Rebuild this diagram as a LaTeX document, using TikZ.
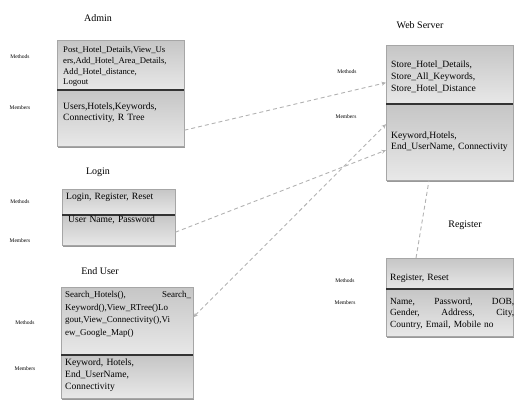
\documentclass[tikz,border=0pt]{standalone}
\usepackage{fontspec}
\setmainfont{Liberation Serif}
\usetikzlibrary{arrows.meta, shadows, positioning}

\begin{document}
\begin{tikzpicture}[x=1pt, y=-1pt,
  comp/.style={draw=gray!70, line width=0.4pt, top color=gray!45, bottom color=gray!18,
    anchor=north west, inner sep=0pt},
  shad/.style={drop shadow={shadow xshift=0.8pt, shadow yshift=-1.6pt, fill=gray!80, opacity=1}},
  txt/.style={anchor=north west, inner sep=0pt, align=left,
    font=\fontsize{9.6}{11.5}\selectfont},
  lbl/.style={font=\fontsize{5.5}{6}\selectfont, inner sep=0pt},
  ttl/.style={font=\fontsize{10}{12}\selectfont, inner sep=0pt},
  sep/.style={line width=1.1pt, black!80},
  tip/.style={-{Stealth[length=4.5pt, width=4pt]}},
  link/.style={draw=gray!60, line width=0.9pt, dash pattern=on 4pt off 3pt}]
\useasboundingbox (0,0) rectangle (514,403);

% Admin
\node[ttl] (adminT) at (98,18) {Admin};
\node[comp, shad, minimum width=127, minimum height=106] (adminB) at (57,40) {};
\node[comp, minimum width=127, minimum height=50] (adminM) at (57,40) {};
\node[comp, minimum width=127, minimum height=56] (adminA) at (57,90) {};
\draw[sep] (adminA.north west) -- (adminA.north east);
\node[txt, text width=122, font=\fontsize{8.7}{10.7}\selectfont] (adminMt) at ([xshift=6, yshift=-6.5]adminM.north west)
  {Post\_Hotel\_Details,View\_Us\\ers,Add\_Hotel\_Area\_Details,\\Add\_Hotel\_distance,\\Logout};
\node[txt, text width=122, font=\fontsize{9.6}{11}\selectfont] (adminAt) at ([xshift=6, yshift=-12.5]adminA.north west)
  {Users,Hotels,Keywords,\\Connectivity, R Tree};
\node[lbl] (adminML) at (20,57) {Methods};
\node[lbl] (adminAL) at (20,108) {Members};

% Web Server
\node[ttl] (webT) at (420,25) {Web Server};
\node[comp, shad, minimum width=127, minimum height=135] (webB) at (386,45) {};
\node[comp, minimum width=127, minimum height=59] (webM) at (386,45) {};
\node[comp, minimum width=127, minimum height=76] (webA) at (386,104) {};
\draw[sep] (webA.north west) -- (webA.north east);
\node[txt, text width=124, font=\fontsize{9.6}{12}\selectfont] (webMt) at ([xshift=5, yshift=-15.5]webM.north west)
  {Store\_Hotel\_Details,\\Store\_All\_Keywords,\\Store\_Hotel\_Distance};
\node[txt, text width=124, font=\fontsize{9.6}{11}\selectfont] (webAt) at ([xshift=5, yshift=-27.5]webA.north west)
  {Keyword,Hotels,\\End\_UserName, Connectivity};
\node[lbl] (webML) at (347,72) {Methods};
\node[lbl] (webAL) at (346,117) {Members};

% Login
\node[ttl] (loginT) at (98,172) {Login};
\node[comp, shad, minimum width=113, minimum height=56] (loginB) at (62,189) {};
\node[comp, minimum width=113, minimum height=26] (loginM) at (62,189) {};
\node[comp, minimum width=113, minimum height=30] (loginA) at (62,215) {};
\draw[sep] (loginA.north west) -- (loginA.north east);
\node[txt, text width=108] (loginMt) at ([xshift=4, yshift=-3.5]loginM.north west)
  {Login, Register, Reset};
\node[txt, text width=108] (loginAt) at ([xshift=6, yshift=-0.5]loginA.north west)
  {User Name, Password};
\node[lbl] (loginML) at (20,202) {Methods};
\node[lbl] (loginAL) at (20,241) {Members};

% End User
\node[ttl] (userT) at (100,271) {End User};
\node[comp, shad, minimum width=132, minimum height=111] (userB) at (61,287) {};
\node[comp, minimum width=132, minimum height=68] (userM) at (61,287) {};
\node[comp, minimum width=132, minimum height=43] (userA) at (61,355) {};
\draw[sep] (userA.north west) -- (userA.north east);
\node[txt, text width=126, font=\fontsize{9}{12.6}\selectfont] (userMt) at ([xshift=4, yshift=-4]userM.north west)
  {Search\_Hotels(),\hfill Search\_\\Keyword(),View\_RTree()Lo\\gout,View\_Connectivity(),Vi\\ew\_Google\_Map()};
\node[txt, text width=126, font=\fontsize{9.6}{12}\selectfont] (userAt) at ([xshift=4, yshift=-4]userA.north west)
  {Keyword, Hotels,\\End\_UserName,\\Connectivity};
\node[lbl] (userML) at (25,323) {Methods};
\node[lbl] (userAL) at (25,369) {Members};

% Register
\node[ttl] (regT) at (465,225) {Register};
\node[comp, shad, minimum width=127, minimum height=78] (regB) at (386,258) {};
\node[comp, minimum width=127, minimum height=31] (regM) at (386,258) {};
\node[comp, minimum width=127, minimum height=47] (regA) at (386,289) {};
\draw[sep] (regA.north west) -- (regA.north east);
\node[txt, text width=124] (regMt) at ([xshift=4, yshift=-15.5]regM.north west)
  {Register, Reset};
\node[txt, text width=124, font=\fontsize{9.4}{11.5}\selectfont] (regAt) at ([xshift=4, yshift=-8.5]regA.north west)
  {Name,\hfill Password,\hfill DOB,\\Gender,\hfill Address,\hfill City,\\Country, Email, Mobile no};
\node[lbl] (regML) at (345,281) {Methods};
\node[lbl] (regAL) at (345,303) {Members};

% conexiones
\draw[link, tip] ([yshift=-12]adminA.east) -- ([yshift=-8]webM.west);
\draw[link, tip] ([yshift=-2]loginA.east) -- ([yshift=-8]webA.west);
\draw[link, {Stealth[length=4.5pt, width=4pt]}-{Stealth[length=4.5pt, width=4pt]}]
  ([yshift=4]userM.east) -- ([yshift=18]webA.west);
\draw[link] ([xshift=30]regM.north west) -- ([xshift=43]webA.south west);
\end{tikzpicture}
\end{document}
